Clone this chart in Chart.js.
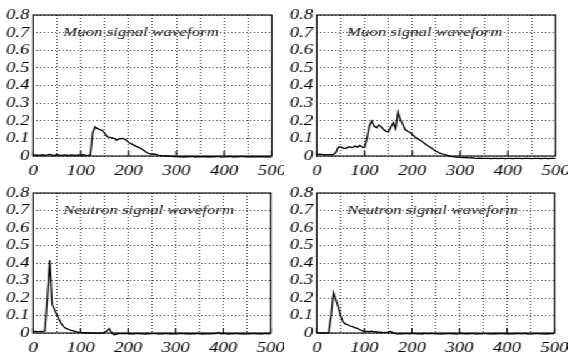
<!DOCTYPE html>
<html>
<head>
<meta charset="utf-8">
<script src="https://cdn.jsdelivr.net/npm/chart.js@4/dist/chart.umd.min.js"></script>
<style>
  html, body { margin: 0; padding: 0; background: #fff; }
  #figure {
    position: relative;
    width: 454.4px;
    height: 356px;
    transform: scaleX(1.25);
    transform-origin: 0 0;
  }
  #figure canvas { position: absolute; }
</style>
</head>
<body>
<div id="figure">
  <canvas id="muonA" width="227" height="178" style="left:0;top:0"></canvas>
  <canvas id="muonB" width="227" height="178" style="left:227.2px;top:0"></canvas>
  <canvas id="neutronA" width="227" height="178" style="left:0;top:178px"></canvas>
  <canvas id="neutronB" width="227" height="178" style="left:227.2px;top:178px"></canvas>
</div>
<script>
// Sample times (ns) shared by all four traces
const time = [
  0, 5, 10, 15, 20, 25, 30, 35, 40, 45,
  50, 55, 60, 65, 70, 75, 80, 85, 90, 95,
  100, 105, 110, 115, 120, 125, 130, 135, 140, 145,
  150, 155, 160, 165, 170, 175, 180, 185, 190, 195,
  200, 205, 210, 215, 220, 225, 230, 235, 240, 245,
  250, 255, 260, 265, 270, 275, 280, 285, 290, 295,
  300, 305, 310, 315, 320, 325, 330, 335, 340, 345,
  350, 355, 360, 365, 370, 375, 380, 385, 390, 395,
  400, 405, 410, 415, 420, 425, 430, 435, 440, 445,
  450, 455, 460, 465, 470, 475, 480, 485, 490, 495,
  500
];

// Muon waveform, first detector
const muonA = [
  0.004, 0.006, 0.005, 0.005, 0.007, 0.004, 0.006, 0.009, 0.005, 0.004,
  0.007, 0.005, 0.004, 0.006, 0.005, 0.004, 0.006, 0.005, 0.004, 0.006,
  0.005, 0.007, 0.005, 0.004, 0.006, 0.135, 0.165, 0.155, 0.150, 0.145,
  0.130, 0.110, 0.105, 0.103, 0.100, 0.090, 0.097, 0.100, 0.098, 0.090,
  0.078, 0.070, 0.063, 0.056, 0.050, 0.044, 0.036, 0.026, 0.017, 0.012,
  0.010, 0.012, 0.007, 0.004, 0.002, 0.001, 0.000, -0.001, -0.002, -0.003,
  -0.003, -0.005, -0.004, -0.006, -0.003, -0.005, -0.004, -0.004, -0.006, -0.003,
  -0.005, -0.004, -0.005, -0.003, -0.006, -0.004, -0.005, -0.003, -0.004, -0.006,
  -0.004, -0.005, -0.003, -0.004, -0.006, -0.004, -0.005, -0.003, -0.004, -0.005,
  -0.004, -0.006, -0.003, -0.005, -0.004, -0.005, -0.004, -0.006, -0.003, -0.005,
  -0.006
];

// Muon waveform, second detector
const muonB = [
  0.008, 0.010, 0.009, 0.007, 0.006, 0.008, 0.007, 0.009, 0.020, 0.050,
  0.052, 0.045, 0.042, 0.050, 0.052, 0.048, 0.056, 0.050, 0.060, 0.050,
  0.048, 0.100, 0.170, 0.198, 0.170, 0.160, 0.176, 0.165, 0.150, 0.140,
  0.138, 0.165, 0.190, 0.155, 0.250, 0.205, 0.180, 0.150, 0.140, 0.135,
  0.122, 0.110, 0.100, 0.092, 0.083, 0.072, 0.062, 0.054, 0.045, 0.035,
  0.027, 0.020, 0.014, 0.010, 0.006, 0.002, -0.002, -0.004, -0.006, -0.006,
  -0.008, -0.009, -0.008, -0.010, -0.011, -0.010, -0.012, -0.013, -0.012, -0.013,
  -0.014, -0.013, -0.014, -0.015, -0.013, -0.014, -0.015, -0.014, -0.013, -0.015,
  -0.014, -0.013, -0.015, -0.014, -0.014, -0.013, -0.015, -0.014, -0.013, -0.014,
  -0.015, -0.014, -0.013, -0.014, -0.015, -0.013, -0.014, -0.015, -0.014, -0.013,
  -0.014
];

// Neutron waveform, first detector
const neutronA = [
  0.008, 0.010, 0.007, 0.009, 0.008, 0.012, 0.200, 0.415, 0.165, 0.135,
  0.105, 0.075, 0.050, 0.035, 0.025, 0.020, 0.015, 0.012, 0.008, 0.004,
  0.003, 0.001, 0.002, 0.000, 0.001, -0.001, 0.000, -0.002, 0.000, -0.001,
  0.002, 0.012, 0.025, 0.003, -0.010, -0.008, -0.002, -0.004, -0.003, -0.002,
  -0.005, -0.003, -0.006, -0.004, -0.002, -0.005, -0.004, -0.006, -0.003, -0.005,
  -0.004, -0.002, -0.005, -0.004, -0.006, -0.003, -0.004, -0.005, -0.003, -0.006,
  -0.004, -0.005, -0.002, -0.004, -0.005, -0.003, -0.006, -0.004, -0.005, -0.003,
  -0.004, -0.006, -0.003, -0.005, -0.004, -0.005, -0.003, -0.004, 0.004, -0.005,
  -0.003, -0.004, -0.006, -0.004, -0.005, -0.003, -0.004, -0.005, -0.004, -0.006,
  -0.003, -0.005, -0.004, -0.003, -0.005, -0.004, -0.006, -0.004, -0.003, -0.005,
  -0.004
];

// Neutron waveform, second detector
const neutronB = [
  0.002, 0.001, 0.000, 0.001, -0.001, 0.002, 0.100, 0.230, 0.190, 0.150,
  0.100, 0.065, 0.052, 0.047, 0.040, 0.036, 0.031, 0.027, 0.020, 0.013,
  0.010, 0.009, 0.008, 0.010, 0.006, 0.007, 0.004, 0.005, 0.002, 0.003,
  0.004, 0.010, 0.002, -0.004, -0.006, -0.003, -0.005, -0.004, -0.003, -0.005,
  -0.004, -0.003, -0.005, -0.004, -0.006, -0.003, -0.004, -0.005, -0.003, -0.004,
  -0.005, -0.004, -0.006, -0.003, -0.005, -0.004, -0.003, -0.005, -0.004, -0.006,
  -0.004, -0.003, -0.005, -0.004, -0.005, -0.003, -0.004, -0.006, -0.004, -0.005,
  -0.003, -0.004, -0.005, -0.004, -0.006, -0.003, -0.005, -0.004, -0.004, -0.005,
  -0.003, -0.006, -0.004, -0.005, -0.003, -0.004, -0.005, -0.004, -0.003, -0.006,
  -0.004, -0.005, -0.003, -0.004, -0.005, -0.004, -0.006, -0.003, -0.005, -0.004,
  -0.004
];

// Axis ticks and their labels
const xGridValues = [0, 50, 100, 150, 200, 250, 300, 350, 400, 450, 500];
const xLabelValues = [0, 100, 200, 300, 400, 500];
const yTickValues = [0, 0.1, 0.2, 0.3, 0.4, 0.5, 0.6, 0.7, 0.8];
const yTickLabels = ['0', '0.1', '0.2', '0.3', '0.4', '0.5', '0.6', '0.7', '0.8'];

const serif = '"Liberation Serif", "Times New Roman", serif';
Chart.defaults.font.family = serif;
Chart.defaults.font.style = 'italic';
const tickFont = { family: serif, size: 15, style: 'italic', weight: 'normal' };

// Frame around the plotting area, inward ticks on the time axis and the panel caption
const framePlugin = {
  id: 'frame',
  afterDraw(chart) {
    const { ctx, chartArea: a, scales: { x } } = chart;
    ctx.save();
    ctx.strokeStyle = '#000';
    ctx.lineWidth = 1.1;
    ctx.strokeRect(a.left, a.top, a.right - a.left, a.bottom - a.top);
    ctx.beginPath();
    xLabelValues.forEach(v => {
      const px = x.getPixelForValue(v);
      ctx.moveTo(px, a.bottom);
      ctx.lineTo(px, a.bottom - 5);
    });
    ctx.stroke();
    const caption = chart.options.plugins.frame.caption;
    ctx.fillStyle = '#111';
    ctx.font = 'italic 13.5px ' + serif;
    ctx.textBaseline = 'alphabetic';
    ctx.textAlign = 'left';
    ctx.fillText(caption, a.left + 24, a.top + 21);
    ctx.restore();
  }
};

function drawPanel(id, values, caption, yWidth, padRight, xHeight) {
  const points = time.map((t, i) => ({ x: t, y: values[i] }));
  return new Chart(document.getElementById(id), {
    type: 'line',
    data: {
      datasets: [{
        data: points,
        borderColor: '#000',
        borderWidth: 1.3,
        pointRadius: 0,
        tension: 0,
        fill: false,
        clip: 6
      }]
    },
    options: {
      responsive: false,
      animation: false,
      devicePixelRatio: 1,
      layout: { padding: { left: 0, top: 15, right: padRight, bottom: 0 } },
      plugins: {
        legend: { display: false },
        tooltip: { enabled: false },
        frame: { caption: caption }
      },
      scales: {
        x: {
          type: 'linear',
          min: 0,
          max: 500,
          afterBuildTicks: s => { s.ticks = xGridValues.map(v => ({ value: v })); },
          afterFit: s => { s.height = xHeight; s.paddingLeft = 0; s.paddingRight = 0; },
          ticks: {
            autoSkip: false,
            maxRotation: 0,
            padding: 6,
            color: '#000',
            font: tickFont,
            callback: v => xLabelValues.includes(v) ? String(v) : ''
          },
          grid: { color: '#444', lineWidth: 1, drawTicks: false, borderDash: [1, 2] },
          border: { display: false, dash: [1, 2] }
        },
        y: {
          type: 'linear',
          min: 0,
          max: 0.8,
          afterBuildTicks: s => { s.ticks = yTickValues.map(v => ({ value: v })); },
          afterFit: s => { s.width = yWidth; s.paddingTop = 0; s.paddingBottom = 0; },
          ticks: {
            autoSkip: false,
            padding: 3,
            color: '#000',
            font: tickFont,
            callback: (v, i) => yTickLabels[i]
          },
          grid: { color: '#444', lineWidth: 1, drawTicks: false, borderDash: [1, 2] },
          border: { display: false, dash: [1, 2] }
        }
      }
    },
    plugins: [framePlugin]
  });
}

drawPanel('muonA', muonA, 'Muon signal waveform', 26.4, 9.6, 22);
drawPanel('muonB', muonB, 'Muon signal waveform', 26.4, 9.6, 22);
drawPanel('neutronA', neutronA, 'Neutron signal waveform', 26.4, 10.4, 23);
drawPanel('neutronB', neutronB, 'Neutron signal waveform', 26.4, 10.4, 23);
</script>
</body>
</html>
